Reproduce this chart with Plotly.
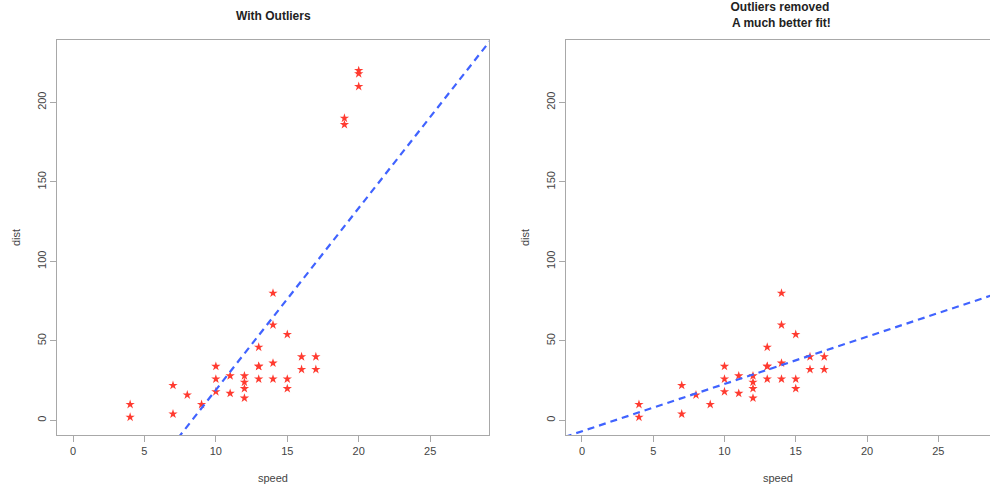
import numpy as np
import plotly.graph_objects as go

# cars[1:30, ]
speed_clean = [4, 4, 7, 7, 8, 9, 10, 10, 10, 11, 11, 12, 12, 12, 12, 13, 13, 13, 13,
               14, 14, 14, 14, 15, 15, 15, 16, 16, 17, 17]
dist_clean = [2, 10, 4, 22, 16, 10, 18, 26, 34, 17, 28, 14, 20, 24, 28, 26, 34, 34, 46,
              26, 36, 60, 80, 20, 26, 54, 32, 40, 32, 40]
# added outliers
speed_out = [19, 19, 20, 20, 20]
dist_out = [190, 186, 210, 220, 218]

speed_all = speed_clean + speed_out
dist_all = dist_clean + dist_out

x_ticks = [0, 5, 10, 15, 20, 25]
y_ticks = [0, 50, 100, 150, 200]

b1, a1 = np.polyfit(speed_all, dist_all, 1)
b2, a2 = np.polyfit(speed_clean, dist_clean, 1)
line_x = [-2, 31]

RED = "#ff3b30"
BLUE = "#4063ff"
GRID = "#a8a8a8"
FONT = "Liberation Sans, Arial, sans-serif"

fig = go.Figure()
fig.add_trace(go.Scatter(x=speed_all, y=dist_all, mode="markers",
                         marker=dict(symbol="star", size=7, color=RED, line=dict(width=0)),
                         xaxis="x", yaxis="y", showlegend=False))
fig.add_trace(go.Scatter(x=line_x, y=[a1 + b1 * v for v in line_x], mode="lines",
                         line=dict(color=BLUE, width=2.2, dash="7px,5px"),
                         xaxis="x", yaxis="y", showlegend=False))
fig.add_trace(go.Scatter(x=speed_clean, y=dist_clean, mode="markers",
                         marker=dict(symbol="star", size=7, color=RED, line=dict(width=0)),
                         xaxis="x2", yaxis="y2", showlegend=False))
fig.add_trace(go.Scatter(x=line_x, y=[a2 + b2 * v for v in line_x], mode="lines",
                         line=dict(color=BLUE, width=2.2, dash="7px,5px"),
                         xaxis="x2", yaxis="y2", showlegend=False))

ydom = [51 / 486, 446 / 486]
common_x = dict(showgrid=False, zeroline=False, showline=True, linecolor=GRID, linewidth=1,
                ticks="outside", ticklen=6, tickcolor=GRID, tickvals=x_ticks,
                tickfont=dict(family=FONT, size=11, color="#444"),
                title=dict(text="speed", font=dict(family=FONT, size=11, color="#444"), standoff=18))
common_y = dict(showgrid=False, zeroline=False, showline=True, linecolor=GRID, linewidth=1,
                ticks="outside", ticklen=6, tickcolor=GRID, tickvals=y_ticks, tickangle=-90,
                range=[-9.2, 239.2], domain=ydom,
                tickfont=dict(family=FONT, size=11, color="#444"),
                title=dict(text="dist", font=dict(family=FONT, size=11, color="#444"), standoff=12))

fig.update_layout(
    width=990, height=486,
    margin=dict(l=0, r=0, t=0, b=0),
    paper_bgcolor="white", plot_bgcolor="white",
    xaxis=dict(common_x, domain=[57 / 990, 489 / 990], range=[-1.12, 29.12], mirror=True, anchor="y"),
    yaxis=dict(common_y, mirror=True, anchor="x"),
    xaxis2=dict(common_x, domain=[566 / 990, 1.0], range=[-1.12, 28.63], mirror=True, anchor="y2"),
    yaxis2=dict(common_y, mirror=False, anchor="x2"),
    annotations=[
        dict(text="<b>With Outliers</b>", x=273 / 990, y=1 - 16 / 486, xref="paper", yref="paper",
             showarrow=False, font=dict(family=FONT, size=12, color="#222"), xanchor="center", yanchor="middle"),
        dict(text="<b>Outliers removed<br> A much better fit!</b>", x=780 / 990, y=1 - 15 / 486,
             xref="paper", yref="paper", showarrow=False,
             font=dict(family=FONT, size=12, color="#222"), xanchor="center", yanchor="middle"),
    ],
)

fig.write_html("out.html", config={"displayModeBar": False},
               post_script="document.body.style.margin='0';document.body.style.overflow='hidden';")
